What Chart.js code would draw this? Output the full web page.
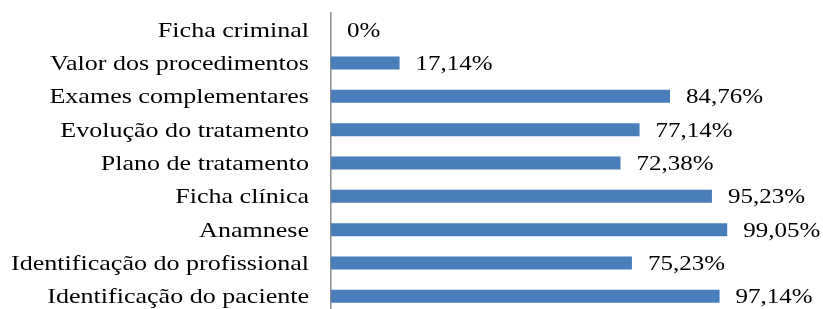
<!DOCTYPE html>
<html>
<head>
<meta charset="utf-8">
<script src="https://cdn.jsdelivr.net/npm/chart.js@4"></script>
<style>
html,body{margin:0;padding:0;background:#fff;overflow:hidden;}
#wrap{width:823px;height:316px;}
</style>
</head>
<body>
<div id="wrap"><canvas id="c" width="823" height="316"></canvas></div>
<script>
const categories = [
  "Ficha criminal",
  "Valor dos procedimentos",
  "Exames complementares",
  "Evolução do tratamento",
  "Plano de tratamento",
  "Ficha clínica",
  "Anamnese",
  "Identificação do profissional",
  "Identificação do paciente"
];
const values = [0, 17.14, 84.76, 77.14, 72.38, 95.23, 99.05, 75.23, 97.14];
const valueLabels = ["0%", "17,14%", "84,76%", "77,14%", "72,38%", "95,23%", "99,05%", "75,23%", "97,14%"];

const FONT = "Liberation Serif";
const FS = 21;
const SX_CAT = 1.24;
const SX_VAL = 1.19;

function drawStretched(ctx, text, x, y, align, sx) {
  ctx.save();
  ctx.translate(x, y);
  ctx.scale(sx, 1);
  ctx.textAlign = align;
  ctx.fillText(text, 0, 0);
  ctx.restore();
}

const textPlugin = {
  id: 'texts',
  afterDraw(chart) {
    const ctx = chart.ctx;
    const meta = chart.getDatasetMeta(0);
    const yScale = chart.scales.y;
    ctx.save();
    ctx.font = FS + 'px "' + FONT + '"';
    ctx.fillStyle = '#000';
    ctx.textBaseline = 'middle';
    categories.forEach((lab, i) => {
      drawStretched(ctx, lab, yScale.right - 22, yScale.getPixelForValue(i) + 1.5, 'right', SX_CAT);
    });
    meta.data.forEach((bar, i) => {
      drawStretched(ctx, valueLabels[i], bar.x + 16, bar.y + 1.5, 'left', SX_VAL);
    });
    ctx.restore();
  }
};

new Chart(document.getElementById('c'), {
  type: 'bar',
  data: {
    labels: categories,
    datasets: [{
      data: values,
      backgroundColor: '#4a7ebb',
      borderWidth: 0,
      categoryPercentage: 1,
      barPercentage: 0.39
    }]
  },
  options: {
    indexAxis: 'y',
    responsive: false,
    animation: false,
    devicePixelRatio: 1,
    layout: { padding: { top: 13, bottom: 3, right: 12, left: 0 } },
    plugins: { legend: { display: false }, tooltip: { enabled: false } },
    scales: {
      x: { display: false, min: 0, max: 120 },
      y: {
        grid: { display: false, drawTicks: false },
        border: { display: true, color: '#8c8c8c', width: 1.5 },
        ticks: { display: false },
        afterFit(scale) { scale.width = 331; scale.paddingTop = 0; scale.paddingBottom = 0; }
      }
    }
  },
  plugins: [textPlugin]
});
</script>
</body>
</html>
